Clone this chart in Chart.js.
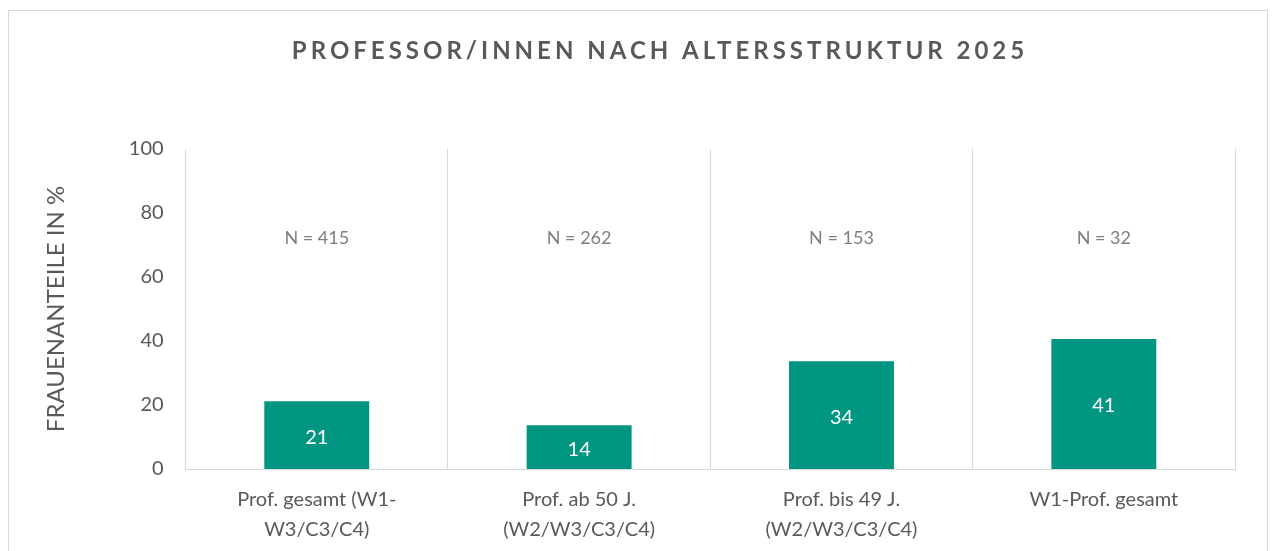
<!DOCTYPE html>
<html>
<head>
<meta charset="utf-8">
<script src="https://cdn.jsdelivr.net/npm/chart.js@4/dist/chart.umd.min.js"></script>
<style>
  html, body { margin: 0; padding: 0; background: #fff; overflow: hidden; }
  #box {
    position: absolute; left: 8px; top: 10px;
    width: 1258px; height: 560px;
    border: 1px solid #d9d9d9;
  }
  #wrap { position: absolute; left: 0; top: 0; width: 1258px; height: 556px; }
</style>
</head>
<body>
<div id="box"><div id="wrap"><canvas id="barChart"></canvas></div></div>
<script>
'use strict';

const chartTitle = 'PROFESSOR/INNEN NACH ALTERSSTRUKTUR 2025';
const axisTitle = 'FRAUENANTEILE IN %';

const categories = [
  ['Prof. gesamt (W1-', 'W3/C3/C4)'],
  ['Prof. ab 50 J.', '(W2/W3/C3/C4)'],
  ['Prof. bis 49 J.', '(W2/W3/C3/C4)'],
  'W1-Prof. gesamt'
];
const shares = [21.2, 13.7, 33.7, 40.6];
const shareLabels = ['21', '14', '34', '41'];
const counts = ['N = 415', 'N = 262', 'N = 153', 'N = 32'];

const fontFamily = 'Lato, "Open Sans", sans-serif';
const grey = '#595959';

// title, N labels and values inside the bars
const extraText = {
  id: 'extraText',
  afterDatasetsDraw(chart) {
    const c = chart.ctx;
    const meta = chart.getDatasetMeta(0);
    const yScale = chart.scales.y;

    c.save();
    c.textAlign = 'center';
    c.textBaseline = 'middle';

    c.fillStyle = '#ffffff';
    c.font = '20px ' + fontFamily;
    meta.data.forEach(function(bar, i) {
      c.fillText(shareLabels[i], bar.x, (bar.y + bar.base) / 2 + 2);
    });

    c.fillStyle = '#7f7f7f';
    c.font = '18px ' + fontFamily;
    meta.data.forEach(function(bar, i) {
      c.fillText(counts[i], bar.x, yScale.getPixelForValue(72));
    });

    c.fillStyle = grey;
    c.font = 'bold 24px ' + fontFamily;
    c.letterSpacing = '4px';
    c.fillText(chartTitle, chart.width / 2 + 22, 40);
    c.restore();
  }
};

const ctx = document.getElementById('barChart');

let barChart = new Chart(ctx, {
  type: 'bar',
  data: {
    labels: categories,
    datasets: [{
      data: shares,
      backgroundColor: '#009681',
      categoryPercentage: 1,
      barPercentage: 0.4
    }]
  },
  options: {
    responsive: true,
    maintainAspectRatio: false,
    animation: false,
    layout: {
      padding: { top: 138, left: 33, right: 32, bottom: 6 }
    },
    plugins: {
      legend: { display: false },
      tooltip: { enabled: false }
    },
    scales: {
      x: {
        grid: { color: '#d9d9d9', drawTicks: false, lineWidth: 1 },
        border: { color: '#d9d9d9' },
        ticks: {
          color: grey,
          font: { family: fontFamily, size: 20, lineHeight: 1.5 },
          padding: 16,
          maxRotation: 0,
          autoSkip: false
        }
      },
      y: {
        min: 0,
        max: 100,
        grid: { display: false, drawTicks: false },
        border: { display: false },
        ticks: {
          stepSize: 20,
          color: grey,
          font: { family: fontFamily, size: 20 },
          padding: 22
        },
        title: {
          display: true,
          text: axisTitle,
          color: grey,
          font: { family: fontFamily, size: 24 },
          padding: { top: 0, bottom: 36 }
        }
      }
    }
  },
  plugins: [extraText]
});
</script>
</body>
</html>
